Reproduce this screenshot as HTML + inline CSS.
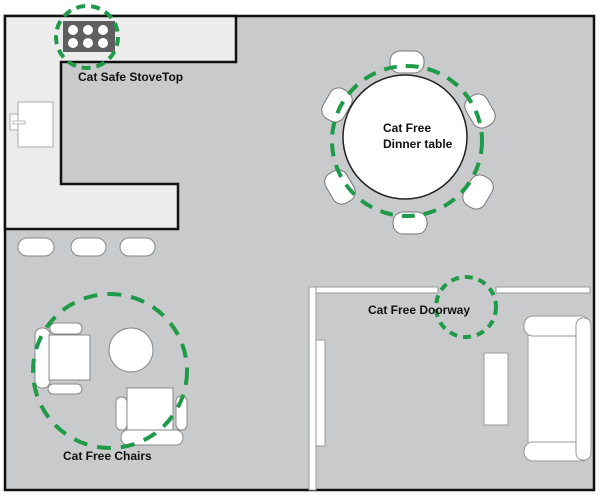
<!DOCTYPE html>
<html><head><meta charset="utf-8"><style>
body{margin:0;background:#fff;}
svg{display:block;}
text{font-family:"Liberation Sans",sans-serif;font-weight:bold;fill:#111;}
</style></head><body>
<svg width="600" height="502" viewBox="0 0 600 502">
<rect x="0" y="0" width="600" height="502" fill="#fff"/>
<rect x="5" y="16" width="589" height="474" fill="#c9cacb" stroke="#111" stroke-width="2.5"/>
<!-- kitchen counter -->
<path d="M5 16 H236 V62 H61 V184 H178 V229 H5 Z" fill="#ececec" stroke="#111" stroke-width="2.5"/>
<!-- sink -->
<rect x="18" y="102" width="35" height="45" fill="#fff" stroke="#aaa" stroke-width="1"/>
<rect x="10" y="114" width="8" height="16" fill="#fff" stroke="#aaa" stroke-width="1"/>
<rect x="13" y="121" width="12" height="3" fill="#fff" stroke="#aaa" stroke-width="0.8"/>
<!-- stove -->
<rect x="63" y="21" width="52" height="31" fill="#5e5e60"/>
<g fill="#fff">
<circle cx="73" cy="30" r="5"/><circle cx="88" cy="30" r="5"/><circle cx="103" cy="30" r="5"/>
<circle cx="73" cy="43" r="5"/><circle cx="88" cy="43" r="5"/><circle cx="103" cy="43" r="5"/>
</g>
<circle cx="87" cy="37" r="31" fill="none" stroke="#1f9a48" stroke-width="4" stroke-dasharray="9 6"/>
<text x="78" y="81" font-size="12">Cat Safe StoveTop</text>
<!-- stools -->
<g fill="#fff" stroke="#888" stroke-width="1">
<rect x="18" y="238" width="36" height="18" rx="9"/>
<rect x="71" y="238" width="35" height="18" rx="9"/>
<rect x="120" y="238" width="35" height="18" rx="9"/>
</g>
<!-- dinner table -->
<g fill="#fff" stroke="#777" stroke-width="1">
<rect x="390" y="51" width="34" height="22" rx="10"/>
<rect x="393" y="212" width="34" height="22" rx="10"/>
<rect x="325" y="88" width="24" height="34" rx="10" transform="rotate(30 337 105)"/>
<rect x="468" y="94" width="24" height="34" rx="10" transform="rotate(-30 480 111)"/>
<rect x="328" y="170" width="24" height="34" rx="10" transform="rotate(-30 340 187)"/>
<rect x="466" y="175" width="24" height="34" rx="10" transform="rotate(30 478 192)"/>
</g>
<circle cx="405" cy="137" r="62" fill="#fff" stroke="#222" stroke-width="1.5"/>
<circle cx="407" cy="141" r="75" fill="none" stroke="#1f9a48" stroke-width="4" stroke-dasharray="13 9"/>
<text x="383" y="132" font-size="12">Cat Free</text>
<text x="383" y="148" font-size="12">Dinner table</text>
<!-- chairs area -->
<g fill="#fff" stroke="#888" stroke-width="1">
<rect x="50" y="323" width="32" height="11" rx="5"/>
<rect x="48" y="384" width="34" height="10" rx="5"/>
<rect x="35" y="328" width="15" height="60" rx="7"/>
<rect x="49" y="335" width="41" height="45"/>
<circle cx="131" cy="350" r="22"/>
<rect x="127" y="388" width="46" height="42"/>
<rect x="116" y="397" width="11" height="33" rx="5"/>
<rect x="176" y="396" width="11" height="34" rx="5"/>
<rect x="121" y="430" width="62" height="15" rx="7"/>
</g>
<circle cx="110" cy="371" r="77" fill="none" stroke="#1f9a48" stroke-width="4" stroke-dasharray="14 10"/>
<text x="63" y="460" font-size="12">Cat Free Chairs</text>
<!-- walls -->
<g fill="#fff" stroke="#999" stroke-width="1">
<rect x="309" y="287" width="129" height="6"/>
<rect x="496" y="287" width="94" height="6"/>
<rect x="309" y="287" width="7" height="203"/>
<rect x="316" y="340" width="9" height="106"/>
<rect x="484" y="353" width="24" height="72"/>
<rect x="528" y="330" width="50" height="118"/>
<rect x="524" y="316" width="66" height="20" rx="9"/>
<rect x="524" y="442" width="66" height="19" rx="9"/>
<rect x="576" y="318" width="15" height="142" rx="7"/>
</g>
<circle cx="466" cy="307" r="30" fill="none" stroke="#1f9a48" stroke-width="4" stroke-dasharray="8 6"/>
<text x="368" y="314" font-size="12">Cat Free Doorway</text>
</svg>
</body></html>
